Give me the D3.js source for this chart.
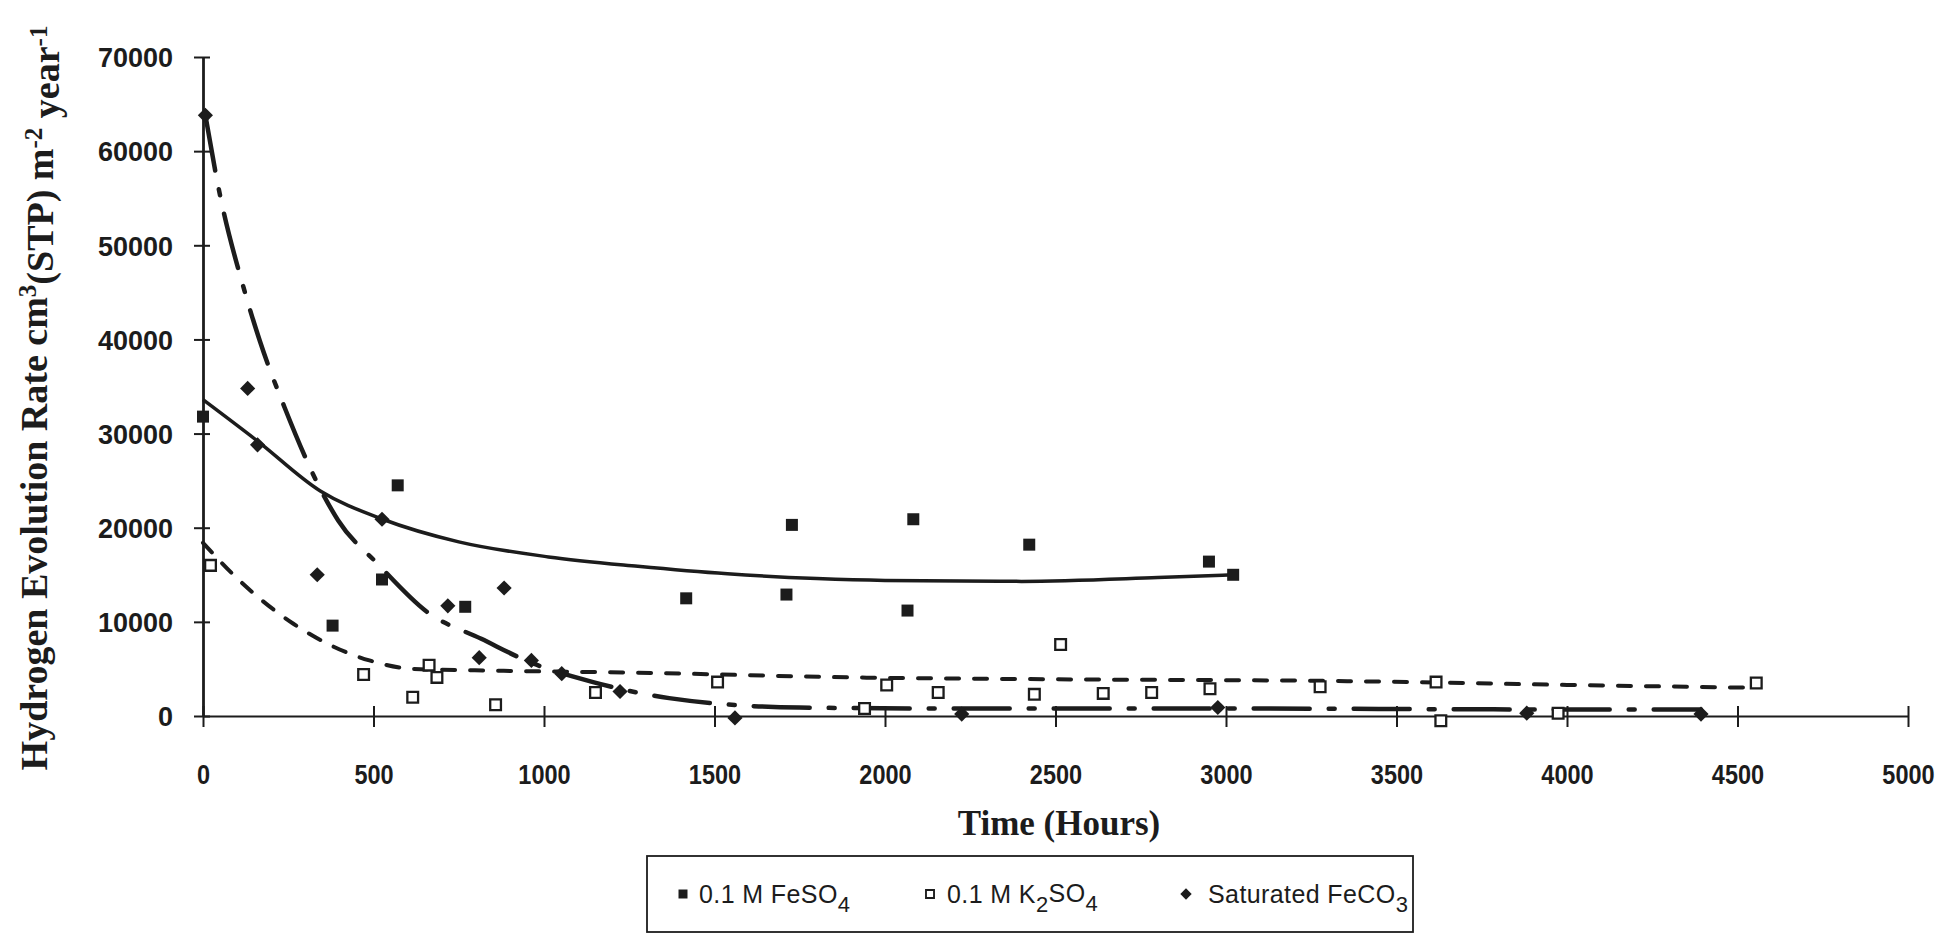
<!DOCTYPE html>
<html>
<head>
<meta charset="utf-8">
<script src="https://cdn.jsdelivr.net/npm/d3@7"></script>
<style>
  body { margin: 0; background: #fff; }
  svg { display: block; }
</style>
</head>
<body>
<div id="chart"></div>
<script>
// measured points (hours, cm3 m-2 year-1)
const feso4Hours = [0, 380, 525, 571, 769, 1417, 1711, 1727, 2066, 2083, 2423, 2950, 3021];
const feso4Rate  = [31800, 9600, 14500, 24500, 11600, 12500, 12900, 20300, 11200, 20900, 18200, 16400, 15000];

const k2so4Hours = [22, 471, 615, 663, 686, 858, 1151, 1509, 1940, 2005, 2156, 2438, 2515, 2640, 2782, 2953, 3276, 3616, 3630, 3974, 4555];
const k2so4Rate  = [16000, 4400, 2000, 5400, 4100, 1200, 2500, 3600, 800, 3300, 2500, 2300, 7600, 2400, 2500, 2900, 3100, 3600, -500, 300, 3500];

const feco3Hours = [7, 131, 160, 335, 525, 718, 810, 883, 963, 1052, 1223, 1560, 2225, 2976, 3882, 4393];
const feco3Rate  = [63800, 34800, 28800, 15000, 20900, 11700, 6200, 13600, 5900, 4500, 2600, -200, 200, 900, 300, 200];

// fitted trend lines
const feso4TrendHours = [0, 160, 344, 527, 750, 1013, 1275, 1538, 1800, 2000, 2400, 2800, 3021];
const feso4TrendRate  = [33600, 29200, 23900, 20900, 18500, 16900, 15900, 15100, 14600, 14400, 14300, 14700, 15000];

const k2so4TrendHours = [0, 95, 265, 488, 619, 882, 1275, 1900, 2500, 3364, 4000, 4555];
const k2so4TrendRate  = [18400, 14800, 9800, 5900, 5000, 4800, 4600, 4100, 3900, 3700, 3300, 3000];

const feco3TrendHours = [7, 45, 123, 167, 239, 350, 396, 514, 659, 816, 960, 1144, 1367, 1748, 2200, 3000, 3900, 4393];
const feco3TrendRate  = [63800, 56200, 45000, 39800, 32800, 23700, 20800, 16100, 11000, 8200, 5700, 3600, 1900, 900, 800, 800, 700, 700];

const xTicks = [0, 500, 1000, 1500, 2000, 2500, 3000, 3500, 4000, 4500, 5000];
const yTicks = [0, 10000, 20000, 30000, 40000, 50000, 60000, 70000];

const W = 1955, H = 938;
const ink = "#1c1c1c";

const svg = d3.select("#chart").append("svg")
    .attr("width", W)
    .attr("height", H);

const x = d3.scaleLinear().domain([0, 5000]).range([203, 1908]);
const y = d3.scaleLinear().domain([0, 70000]).range([716, 57]);

// y axis
const yAxis = svg.append("g")
    .attr("transform", `translate(${x(0)},0)`)
    .call(d3.axisLeft(y).tickValues(yTicks).tickSizeOuter(0).tickFormat(d3.format("d")));
yAxis.select(".domain").attr("stroke", ink).attr("stroke-width", 2.8);
yAxis.selectAll(".tick line").attr("x1", 7).attr("x2", -9).attr("stroke", ink).attr("stroke-width", 2);
yAxis.selectAll(".tick text")
    .attr("x", -30)
    .attr("dy", "0.36em")
    .attr("fill", ink)
    .style("font-family", "'Liberation Sans', Arial, sans-serif")
    .style("font-weight", "bold")
    .style("font-size", "27px");

// x axis
const xAxis = svg.append("g")
    .attr("transform", `translate(0,${y(0)})`)
    .call(d3.axisBottom(x).tickValues(xTicks).tickSizeOuter(0).tickFormat(d3.format("d")));
xAxis.select(".domain").attr("stroke", ink).attr("stroke-width", 2);
xAxis.selectAll(".tick line").attr("y1", -10).attr("y2", 11).attr("stroke", ink).attr("stroke-width", 2);
xAxis.selectAll(".tick text")
    .attr("y", 68)
    .attr("dy", null)
    .attr("transform", "scale(0.84,1)")
    .attr("fill", ink)
    .style("font-family", "'Liberation Sans', Arial, sans-serif")
    .style("font-weight", "bold")
    .style("font-size", "28px");

// trend lines
const line = d3.line()
    .x(d => x(d[0]))
    .y(d => y(d[1]))
    .curve(d3.curveMonotoneX);

const plot = svg.append("g");

plot.append("path")
    .datum(d3.zip(k2so4TrendHours, k2so4TrendRate))
    .attr("d", line)
    .attr("fill", "none")
    .attr("stroke", ink)
    .attr("stroke-width", 4)
    .attr("stroke-linecap", "round")
    .attr("stroke-dasharray", "13,15");

plot.append("path")
    .datum(d3.zip(feco3TrendHours, feco3TrendRate))
    .attr("d", line)
    .attr("fill", "none")
    .attr("stroke", ink)
    .attr("stroke-width", 4.5)
    .attr("stroke-linecap", "round")
    .attr("stroke-dasharray", "56,19,6,19");

plot.append("path")
    .datum(d3.zip(feso4TrendHours, feso4TrendRate))
    .attr("d", line)
    .attr("fill", "none")
    .attr("stroke", ink)
    .attr("stroke-width", 3.5);

// markers
const square = d3.symbol(d3.symbolSquare, 144);
const openSquare = d3.symbol(d3.symbolSquare, 115);
const diamond = d3.symbol(d3.symbolSquare, 115);

plot.selectAll(".k2so4")
    .data(d3.zip(k2so4Hours, k2so4Rate))
    .enter().append("path")
    .attr("class", "k2so4")
    .attr("d", openSquare)
    .attr("transform", d => `translate(${x(d[0])},${y(d[1])})`)
    .attr("fill", "#fff")
    .attr("stroke", ink)
    .attr("stroke-width", 2.3);

plot.selectAll(".feso4")
    .data(d3.zip(feso4Hours, feso4Rate))
    .enter().append("path")
    .attr("class", "feso4")
    .attr("d", square)
    .attr("transform", d => `translate(${x(d[0])},${y(d[1])})`)
    .attr("fill", ink);

plot.selectAll(".feco3")
    .data(d3.zip(feco3Hours, feco3Rate))
    .enter().append("path")
    .attr("class", "feco3")
    .attr("d", diamond)
    .attr("transform", d => `translate(${x(d[0])},${y(d[1])}) rotate(45)`)
    .attr("fill", ink);

// axis titles
const serif = "'Liberation Serif', 'Times New Roman', serif";

svg.append("text")
    .attr("x", 1059)
    .attr("y", 835)
    .attr("text-anchor", "middle")
    .attr("fill", ink)
    .style("font-family", serif)
    .style("font-weight", "bold")
    .style("font-size", "35px")
    .text("Time (Hours)");

const yTitle = svg.append("text")
    .attr("transform", "translate(47,398) rotate(-90)")
    .attr("text-anchor", "middle")
    .attr("fill", ink)
    .style("font-family", serif)
    .style("font-weight", "bold")
    .style("font-size", "38px");
yTitle.append("tspan").text("Hydrogen Evolution Rate cm");
yTitle.append("tspan").attr("dy", "-0.45em").style("font-size", "25px").text("3");
yTitle.append("tspan").attr("dy", "0.45em").text("(STP) m");
yTitle.append("tspan").attr("dy", "-0.45em").style("font-size", "25px").text("-2");
yTitle.append("tspan").attr("dy", "0.45em").text(" year");
yTitle.append("tspan").attr("dy", "-0.45em").style("font-size", "25px").text("-1");

// legend
const legend = svg.append("g");
legend.append("rect")
    .attr("x", 647).attr("y", 856)
    .attr("width", 766).attr("height", 76)
    .attr("fill", "none")
    .attr("stroke", ink)
    .attr("stroke-width", 1.8);

const legendItems = [
    { mx: 683, tx: 699, sym: square, fill: ink, rot: 0, parts: [["0.1 M FeSO", false], ["4", true]] },
    { mx: 930, tx: 947, sym: openSquare, fill: "#fff", rot: 0, parts: [["0.1 M K", false], ["2", true], ["SO", false], ["4", true]] },
    { mx: 1186, tx: 1208, sym: diamond, fill: ink, rot: 45, parts: [["Saturated FeCO", false], ["3", true]] }
];

legendItems.forEach(it => {
    legend.append("path")
        .attr("d", it.sym)
        .attr("transform", `translate(${it.mx},894) rotate(${it.rot}) scale(0.75)`)
        .attr("fill", it.fill)
        .attr("stroke", ink)
        .attr("stroke-width", it.fill === ink ? 0 : 2.5);
    const t = legend.append("text")
        .attr("x", it.tx)
        .attr("y", 903)
        .attr("fill", ink)
        .style("font-family", "'Liberation Sans', Arial, sans-serif")
        .style("font-size", "25px")
        .style("letter-spacing", "0.4px");
    let low = false;
    it.parts.forEach(p => {
        const s = t.append("tspan").text(p[0]);
        if (p[1] && !low) { s.attr("dy", "0.4em").style("font-size", "22px"); low = true; }
        else if (!p[1] && low) { s.attr("dy", "-0.4em"); low = false; }
    });
});
</script>
</body>
</html>
